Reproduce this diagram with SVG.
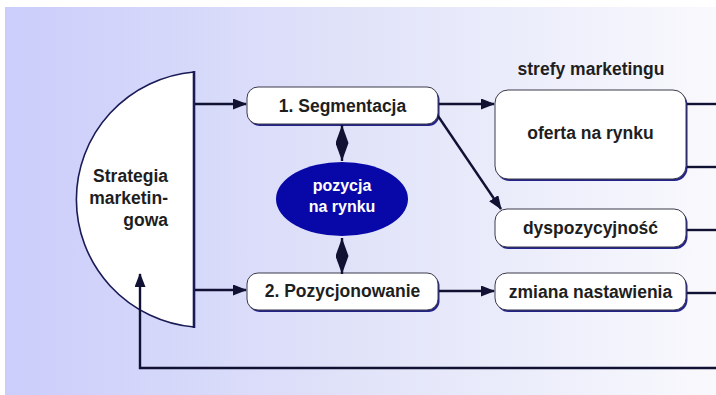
<svg xmlns="http://www.w3.org/2000/svg" width="716" height="395" viewBox="0 0 716 395">
<defs>
<linearGradient id="bg" x1="0" y1="0" x2="1" y2="0">
<stop offset="0" stop-color="#cbcdfb"/>
<stop offset="0.5" stop-color="#e1e3f9"/>
<stop offset="1" stop-color="#f9f9fd"/>
</linearGradient>
<marker id="ah" viewBox="0 0 14 11" refX="13" refY="5.5" markerWidth="14" markerHeight="11" markerUnits="userSpaceOnUse" orient="auto">
<path d="M0,0 L14,5.5 L0,11 z" fill="#111133"/>
</marker>
<marker id="dh" viewBox="0 0 18 13" refX="18" refY="6.5" markerWidth="18" markerHeight="13" markerUnits="userSpaceOnUse" orient="auto-start-reverse">
<path d="M0,0 L18,6.5 L0,13 z" fill="#111133"/>
</marker>
</defs>
<style>
.t{font-family:"Liberation Sans",Arial,sans-serif;font-weight:bold;font-size:17.5px;fill:#1e1e1e;text-anchor:middle}
.w{fill:#ffffff;font-size:16px}
.box{fill:#ffffff;stroke:#3a3a4a;stroke-width:1}
.sh{fill:#23238a}
.ln{fill:none;stroke:#111133;stroke-width:2.4}
</style>
<rect x="5" y="7" width="711" height="388" fill="url(#bg)"/>

<g id="strategia">
<path d="M194,72 A129,128 0 0 0 194,327 Z" fill="#ffffff" stroke="#1a1a55" stroke-width="1.6"/>
<line x1="194" y1="71" x2="194" y2="328" stroke="#1a1a55" stroke-width="2.6"/>
<text class="t" style="text-anchor:end" x="168" y="182">Strategia</text>
<text class="t" style="text-anchor:end" x="168" y="204">marketin-</text>
<text class="t" style="text-anchor:end" x="168" y="226">gowa</text>
</g>

<g id="segmentacja">
<rect class="sh" x="248.5" y="89" width="191" height="37" rx="11"/>
<rect class="box" x="247" y="87" width="191" height="37" rx="11"/>
<text class="t" x="342.5" y="112">1. Segmentacja</text>
</g>

<g id="pozycja">
<ellipse cx="342" cy="199" rx="66" ry="37" fill="#0808a8"/>
<text class="t w" x="342" y="191">pozycja</text>
<text class="t w" x="342" y="212">na rynku</text>
</g>

<g id="pozycjonowanie">
<rect class="sh" x="248.5" y="275" width="191" height="37" rx="11"/>
<rect class="box" x="247" y="273" width="191" height="37" rx="11"/>
<text class="t" x="342.5" y="297">2. Pozycjonowanie</text>
</g>

<g id="strefy">
<text class="t" x="591" y="75">strefy marketingu</text>
</g>

<g id="oferta">
<rect class="sh" x="496.5" y="92" width="191" height="89" rx="13"/>
<rect class="box" x="495" y="90" width="191" height="89" rx="13"/>
<text class="t" x="590.5" y="139">oferta na rynku</text>
</g>

<g id="dyspozycyjnosc">
<rect class="sh" x="496.5" y="211" width="191" height="38" rx="12"/>
<rect class="box" x="495" y="209" width="191" height="38" rx="12"/>
<text class="t" x="590.5" y="234">dyspozycyjność</text>
</g>

<g id="zmiana">
<rect class="sh" x="496.5" y="275" width="191" height="37" rx="12"/>
<rect class="box" x="495" y="273" width="191" height="37" rx="12"/>
<text class="t" x="590.5" y="298">zmiana nastawienia</text>
</g>

<g id="connectors">
<line class="ln" x1="195" y1="104" x2="246" y2="104" marker-end="url(#ah)"/>
<line class="ln" x1="195" y1="290" x2="246" y2="290" marker-end="url(#ah)"/>
<line class="ln" x1="439" y1="104" x2="494" y2="104" marker-end="url(#ah)"/>
<line class="ln" x1="439" y1="291" x2="494" y2="291" marker-end="url(#ah)"/>
<line class="ln" x1="438" y1="116" x2="501" y2="209" marker-end="url(#ah)"/>
<line class="ln" x1="342" y1="125" x2="342" y2="161" marker-start="url(#dh)" marker-end="url(#dh)"/>
<line class="ln" x1="342" y1="238" x2="342" y2="274" marker-start="url(#dh)" marker-end="url(#dh)"/>
<line class="ln" x1="687" y1="104" x2="716" y2="104"/>
<line class="ln" x1="687" y1="167" x2="716" y2="167"/>
<line class="ln" x1="687" y1="230" x2="716" y2="230"/>
<line class="ln" x1="687" y1="293" x2="716" y2="293"/>
<polyline class="ln" points="716,368 140,368 140,274" stroke-width="2.6" marker-end="url(#ah)"/>
</g>
</svg>
